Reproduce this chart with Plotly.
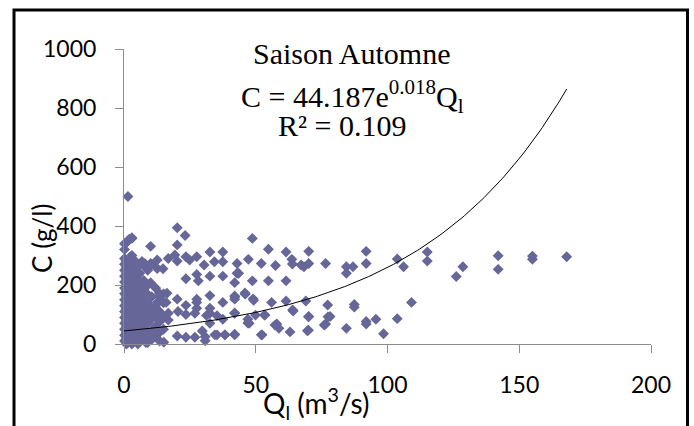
import numpy as np
import plotly.graph_objects as go

# Scattered points (Q_l in m3/s, C in g/l)
q_sparse = [1.5, 20.2, 23.2, 10.1, 20.2, 2, 3, 0.5, 48.7, 54.8, 61.5, 70.1, 32.6, 37.5, 91.9, 115.1, 115.1,
            103.7, 106.1, 128.6, 126.1, 142, 142, 155, 155, 168, 109.1, 103.7, 98.5, 95.6, 91.9, 91.9, 87.4,
            87.4, 84.4, 84.4, 84.4, 86.9, 91.9, 76.5, 77.3, 78.2, 76.5, 69.6, 70.1, 69, 68.3, 70.1, 67.2, 63.7,
            63.9, 57.5, 52.1, 47.2, 42.9, 42.9, 43.5, 42, 48.7, 54.8, 61.5, 46, 49.2, 42, 42, 37.5, 32.6, 56,
            61.5, 64.2, 58, 58.8, 63, 52.1, 53.3, 49.9, 47, 47.5, 42, 37.5, 35.3, 32.6, 31.3, 32.6, 35.3, 38.3,
            42, 30.8, 30.8, 26.9, 23.5, 20.2, 29.7, 37.5, 32.6, 37.5, 34.3, 30.4, 27.6, 23.5, 27.6, 28.2, 27.6,
            27.6, 23.5, 20.2, 20.5, 23.5, 26.9, 27.6, 32.6, 23.5, 24.9, 20.2, 19.3, 16.8, 12.6, 10.1, 7.9, 14.8,
            12.6, 10.1, 13.4, 16.3, 12.6, 16, 15.1, 16.8, 16.8, 12.6, 10.1, 11.8,
            42.1, 45.9, 49, 47, 57.3, 42, 53.5, 64, 70, 77.4, 76, 34.5, 38.3, 42, 52.4, 70]
c_sparse = [500, 394, 368, 331, 336, 355, 358, 340, 358, 321, 312, 314, 312, 312, 314, 312, 281,
            288, 262, 262, 229, 299, 253, 298, 287, 296, 141, 86, 35, 84, 76, 68, 134,
            125, 53, 240, 262, 262, 273, 273, 132, 93, 68, 45, 93, 146, 262, 273, 268, 287,
            271, 266, 273, 287, 273, 240, 240, 208, 214, 214, 214, 169, 148, 163, 152, 141, 164, 141,
            146, 112, 68, 53, 41, 31, 98, 98, 84, 70, 104, 84, 96, 104, 97, 70, 31, 31,
            33, 25, 11, 23, 23, 27, 44, 230, 230, 279, 279, 268, 296, 221, 236, 214, 152,
            141, 131, 152, 110, 100, 104, 121, 121, 296, 285, 281, 302, 290, 285, 273, 273, 255,
            256, 208, 172, 172, 141, 141, 6, 104, 81, 104, 81, 53,
            159, 173, 153, 71, 64, 105, 98, 115, 92, 92, 64, 31, 31, 31, 31, 47]

# Dense cluster near Q_l = 0..15
q_dense = ([0.2] * 17 + [0.9] * 15 + [1.5] * 16 + [2.3] * 15 + [3] * 17 + [3.8] * 12
           + [4.5] * 9 + [5.3] * 8 + [6] * 9 + [6.8] * 7 + [7.5] * 8 + [8.3] * 6 + [9] * 7
           + [10.5] * 6 + [12] * 5 + [13.5] * 5 + [15] * 4)
c_dense = ([10, 30, 50, 70, 90, 110, 130, 150, 170, 190, 210, 230, 250, 270, 290, 320, 340]
           + [0, 20, 40, 60, 80, 100, 120, 140, 160, 180, 200, 220, 240, 260, 280]
           + [5, 25, 45, 65, 85, 105, 125, 145, 165, 185, 205, 225, 245, 265, 285, 350]
           + [15, 35, 55, 75, 95, 115, 135, 155, 175, 195, 215, 235, 255, 275, 295]
           + [0, 20, 40, 60, 80, 100, 120, 140, 160, 180, 200, 220, 240, 260, 280, 300, 360]
           + [10, 35, 60, 85, 110, 135, 160, 185, 210, 235, 260, 285]
           + [15, 45, 75, 105, 135, 165, 195, 225, 255]
           + [0, 30, 60, 90, 120, 150, 185, 215]
           + [10, 35, 60, 95, 130, 170, 205, 240, 270]
           + [25, 45, 75, 110, 145, 180, 280]
           + [20, 55, 80, 115, 150, 185, 215, 265]
           + [5, 40, 65, 95, 130, 175]
           + [5, 30, 70, 100, 140, 200, 250]
           + [15, 45, 90, 120, 160, 270]
           + [25, 60, 95, 130, 190]
           + [10, 40, 75, 110, 160]
           + [50, 90, 140, 170])

# Exponential trend: C = a * exp(b * Q)
trend_a = 44.187
trend_b = 0.0177
trend_qmax = 168

x_ticks = [0, 50, 100, 150, 200]
y_ticks = [0, 200, 400, 600, 800, 1000]

q_all = q_dense + q_sparse
c_all = c_dense + c_sparse

tq = np.linspace(0, trend_qmax, 200)
tc = trend_a * np.exp(trend_b * tq)

fig = go.Figure()
fig.add_trace(go.Scatter(x=q_all, y=c_all, mode="markers",
                         marker=dict(symbol="diamond", size=8.4, color="#666699", line=dict(width=0)),
                         showlegend=False, cliponaxis=False))
fig.add_trace(go.Scatter(x=tq, y=tc, mode="lines", line=dict(color="black", width=1),
                         showlegend=False))

tick_font = dict(family="Lato, Open Sans, sans-serif", size=23, color="black")
fig.update_xaxes(range=[0, 200], tickvals=x_ticks, showgrid=False, zeroline=False,
                 showline=True, linecolor="#8c8c8c", linewidth=1, ticks="outside", ticklen=8,
                 tickcolor="#8c8c8c", tickfont=tick_font, ticklabelstandoff=12)
fig.update_yaxes(range=[0, 1000], tickvals=y_ticks, showgrid=False, zeroline=False,
                 showline=True, linecolor="#8c8c8c", linewidth=1, ticks="outside", ticklen=8,
                 tickcolor="#8c8c8c", tickfont=tick_font, ticklabelstandoff=14)

serif = dict(family="Liberation Serif, Times New Roman, serif", size=30, color="black")
ann = [
    dict(text="Saison Automne", x=0.433, y=0.985, font=serif),
    dict(text="C = 44.187e<sup>0.018</sup>Q<sub>l</sub>", x=0.433, y=0.838, font=serif),
    dict(text="R² = 0.109", x=0.414, y=0.742, font=serif),
    dict(text="C (g/l)", x=-0.156, y=0.359, textangle=-90,
         font=dict(family="Lato, Open Sans, sans-serif", size=26, color="black")),
    dict(text="Q<sub>l</sub> (m<sup>3</sup>/s)", x=0.364, y=-0.20,
         font=dict(family="Lato, Open Sans, sans-serif", size=28, color="black")),
]
for a in ann:
    a.update(xref="paper", yref="paper", showarrow=False, xanchor="center", yanchor="middle")
fig.update_layout(annotations=ann)

fig.add_shape(type="rect", xref="paper", yref="paper", x0=-0.2087, x1=1.0693, y0=-0.32, y1=1.132,
              line=dict(color="black", width=3), fillcolor="rgba(0,0,0,0)", layer="above")

fig.update_layout(width=694, height=426, margin=dict(l=124, r=43, t=49, b=82),
                  paper_bgcolor="white", plot_bgcolor="white")

fig.write_html("out.html", config={"displayModeBar": False},
               post_script="document.body.style.margin='0';document.body.style.overflow='hidden';")
